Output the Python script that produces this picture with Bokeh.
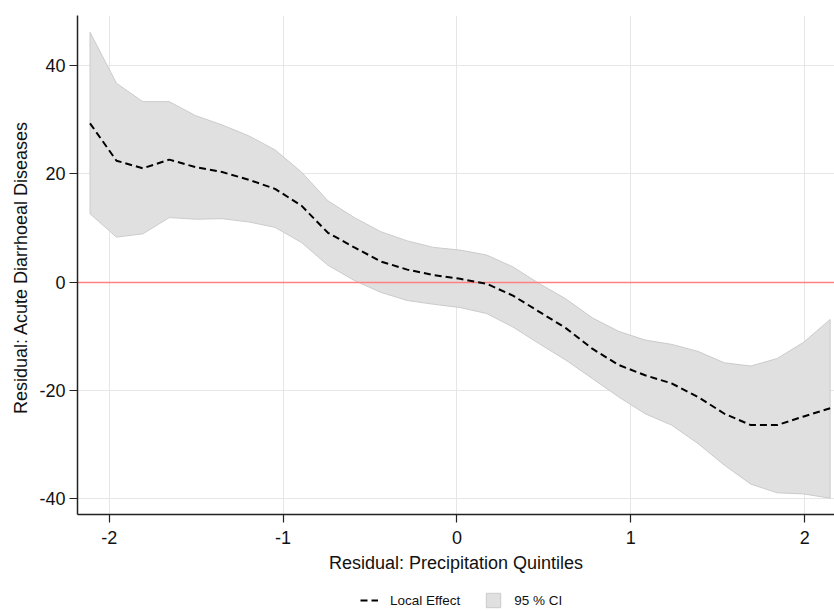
from bokeh.plotting import figure
from bokeh.layouts import column
from bokeh.models import FixedTicker, Legend, LegendItem, Range1d
from bokeh.embed import file_html
from bokeh.resources import INLINE

# ---- data ----
x_vals = [-2.110, -1.958, -1.806, -1.654, -1.502, -1.350, -1.198, -1.046, -0.894, -0.742,
          -0.590, -0.438, -0.286, -0.134, 0.018, 0.170, 0.322, 0.474, 0.626, 0.778,
          0.930, 1.082, 1.234, 1.386, 1.538, 1.690, 1.842, 1.994, 2.146]
local_effect = [29.3, 22.4, 21.0, 22.6, 21.2, 20.3, 18.9, 17.2, 14.1, 9.1,
                6.4, 3.8, 2.3, 1.3, 0.6, -0.3, -2.5, -5.5, -8.5, -12.3,
                -15.3, -17.2, -18.7, -21.2, -24.3, -26.4, -26.4, -24.8, -23.3]
ci_upper = [46.1, 36.7, 33.3, 33.3, 30.7, 29.0, 27.0, 24.4, 20.3, 15.0,
            11.9, 9.3, 7.6, 6.4, 5.9, 5.0, 2.8, -0.3, -3.1, -6.6,
            -9.1, -10.7, -11.5, -12.8, -14.9, -15.5, -14.1, -11.1, -6.9]
ci_lower = [12.6, 8.3, 8.9, 11.9, 11.6, 11.7, 11.1, 10.1, 7.3, 3.1,
            0.3, -1.9, -3.4, -4.1, -4.7, -5.8, -8.3, -11.4, -14.4, -17.8,
            -21.2, -24.3, -26.4, -29.8, -33.8, -37.3, -38.9, -39.1, -39.9]
x_ticks = [-2, -1, 0, 1, 2]
y_ticks = [-40, -20, 0, 20, 40]
ref_line = [0]
legend_labels = ["Local Effect", "95 % CI"]

FONT = "Liberation Sans"
BAND_FILL = "#e0e0e0"
BAND_LINE = "#cbcbcb"
MEAN_DASH = "7 4"
NAN = float("nan")

p = figure(width=834, height=585, output_backend="svg", toolbar_location=None,
           x_range=Range1d(-2.182, 2.171), y_range=Range1d(-42.9, 49.2),
           min_border_left=77, min_border_right=0, min_border_top=15,
           min_border_bottom=71)
p.outline_line_color = None
p.background_fill_color = "white"
p.border_fill_color = "white"

# grids
for g in (p.xgrid, p.ygrid):
    g.grid_line_color = "#e6e6e6"
    g.grid_line_width = 1
p.xgrid.ticker = FixedTicker(ticks=x_ticks)
p.ygrid.ticker = FixedTicker(ticks=y_ticks)

# axes
p.xaxis.ticker = FixedTicker(ticks=x_ticks)
p.yaxis.ticker = FixedTicker(ticks=y_ticks)
p.xaxis.major_label_overrides = {t: str(t) for t in x_ticks}
p.yaxis.major_label_overrides = {t: str(t) for t in y_ticks}
p.xaxis.axis_label = "Residual: Precipitation Quintiles"
p.yaxis.axis_label = "Residual:  Acute Diarrhoeal Diseases"
for ax in (p.xaxis, p.yaxis):
    ax.axis_line_color = "#222222"
    ax.axis_line_width = 1.5
    ax.major_tick_line_color = "#222222"
    ax.major_tick_line_width = 1.2
    ax.major_tick_in = 0
    ax.major_tick_out = 8
    ax.minor_tick_line_color = None
    ax.major_label_text_font = FONT
    ax.major_label_text_font_size = "18px"
    ax.major_label_text_color = "#111111"
    ax.axis_label_text_font = FONT
    ax.axis_label_text_font_size = "18px"
    ax.axis_label_text_font_style = "normal"
    ax.axis_label_text_color = "#111111"
p.yaxis.major_label_standoff = 4
p.yaxis.axis_label_standoff = 5
p.xaxis.major_label_standoff = 8
p.xaxis.axis_label_standoff = 6

# band
band_x = x_vals + x_vals[::-1]
band_y = ci_upper + ci_lower[::-1]
band = p.patch(band_x, band_y, fill_color=BAND_FILL, fill_alpha=1.0,
               line_color=BAND_LINE, line_width=1)

# zero reference line
p.hspan(y=ref_line, line_color="#ff8080", line_width=1.6)

# local effect
mean_r = p.line(x_vals, local_effect, line_color="black", line_width=2,
                line_dash=MEAN_DASH)

# ---- legend strip below the chart ----
leg = figure(width=834, height=26, output_backend="svg", toolbar_location=None,
             x_range=Range1d(0, 1), y_range=Range1d(0, 1),
             min_border_left=0, min_border_right=0, min_border_top=0,
             min_border_bottom=0)
leg.axis.visible = False
leg.grid.visible = False
leg.outline_line_color = None
# invisible stand-in renderers (NaN) that only carry the legend styles
leg_line = leg.line([NAN], [NAN], line_color="black", line_width=2,
                    line_dash=MEAN_DASH)
leg_band = leg.patch([NAN], [NAN], fill_color=BAND_FILL, fill_alpha=1.0,
                     line_color=BAND_LINE, line_width=1)

legend = Legend(items=[LegendItem(label=legend_labels[0], renderers=[leg_line]),
                       LegendItem(label=legend_labels[1], renderers=[leg_band])],
                orientation="horizontal", location=(283, 2),
                label_text_font=FONT, label_text_font_size="13.5px",
                label_text_color="#111111",
                glyph_width=18, glyph_height=18, label_height=16,
                label_standoff=12, spacing=24,
                padding=3, margin=0,
                border_line_color=None, background_fill_alpha=0)
leg.add_layout(legend, "center")

layout = column(p, leg, spacing=0)
open("out.html", "w").write(file_html(layout, INLINE))
